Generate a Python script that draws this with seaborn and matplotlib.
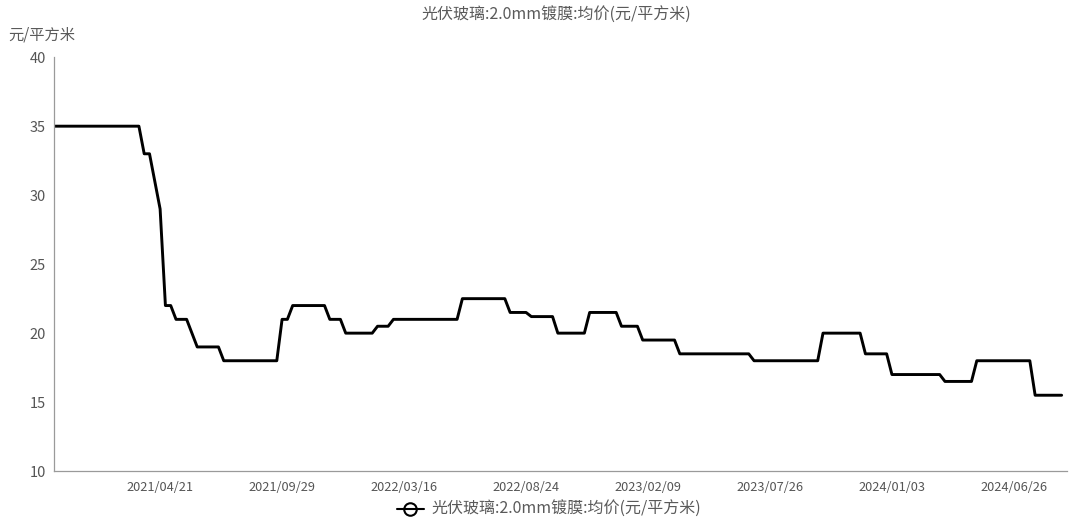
import numpy as np
import pandas as pd
import matplotlib
matplotlib.use("Agg")
import matplotlib.pyplot as plt
from matplotlib.lines import Line2D
import seaborn as sns

# weekly quotes, holiday weeks missing
first_week = "2020-12-02"
last_week = "2024-08-28"
skipped_weeks = ["2022-02-02", "2023-01-25", "2023-05-03", "2024-02-14", "2024-05-01"]
renamed_weeks = {"2023/02/08": "2023/02/09"}

price = [
    35, 35, 35, 35, 35, 35, 35, 35, 35, 35, 35, 35, 35, 35, 35, 35, 35,
    33, 33, 31, 29, 22, 22, 21, 21, 21, 20, 19, 19, 19, 19, 19,
    18, 18, 18, 18, 18, 18, 18, 18, 18, 18, 18,
    21, 21, 22, 22, 22, 22, 22, 22, 22, 21, 21, 21,
    20, 20, 20, 20, 20, 20, 20.5, 20.5, 20.5,
    21, 21, 21, 21, 21, 21, 21, 21, 21, 21, 21, 21, 21,
    22.5, 22.5, 22.5, 22.5, 22.5, 22.5, 22.5, 22.5, 22.5,
    21.5, 21.5, 21.5, 21.5, 21.2, 21.2, 21.2, 21.2, 21.2,
    20, 20, 20, 20, 20, 20, 21.5, 21.5, 21.5, 21.5, 21.5, 21.5,
    20.5, 20.5, 20.5, 20.5, 19.5, 19.5, 19.5, 19.5, 19.5, 19.5, 19.5,
    18.5, 18.5, 18.5, 18.5, 18.5, 18.5, 18.5, 18.5, 18.5, 18.5, 18.5, 18.5, 18.5, 18.5,
    18, 18, 18, 18, 18, 18, 18, 18, 18, 18, 18, 18, 18,
    20, 20, 20, 20, 20, 20, 20, 20, 18.5, 18.5, 18.5, 18.5, 18.5,
    17, 17, 17, 17, 17, 17, 17, 17, 17, 17, 16.5, 16.5, 16.5, 16.5, 16.5, 16.5,
    18, 18, 18, 18, 18, 18, 18, 18, 18, 18, 18,
    15.5, 15.5, 15.5, 15.5, 15.5, 15.5,
]

tick_labels = ["2021/04/21", "2021/09/29", "2022/03/16", "2022/08/24",
               "2023/02/09", "2023/07/26", "2024/01/03", "2024/06/26"]
y_ticks = [10, 15, 20, 25, 30, 35, 40]

series_name = "光伏玻璃:2.0mm镀膜:均价(元/平方米)"
unit = "元/平方米"

weeks = pd.date_range(first_week, last_week, freq="W-WED")
weeks = weeks[~weeks.isin(pd.to_datetime(skipped_weeks))]
week_labels = [renamed_weeks.get(s, s) for s in weeks.strftime("%Y/%m/%d")]
df = pd.DataFrame({"pos": np.arange(len(week_labels)), "date": week_labels, "price": price})

sns.set_style("white")
plt.rcParams["font.family"] = ["Noto Sans CJK SC", "DejaVu Sans"]

fig = plt.figure(figsize=(10.81, 5.2), dpi=100)
ax = fig.add_axes([0.05, 0.094, 0.937, 0.796])

sns.lineplot(data=df, x="pos", y="price", color="black", linewidth=2.1, ax=ax)

ax.set_xlim(0, len(df))
ax.set_ylim(10, 40)
ax.set_yticks(y_ticks)
tick_pos = [week_labels.index(t) for t in tick_labels]
ax.set_xticks(tick_pos)
ax.set_xticklabels(tick_labels)
ax.set_xlabel("")
ax.set_ylabel("")

for side in ["top", "right"]:
    ax.spines[side].set_visible(False)
for side in ["left", "bottom"]:
    ax.spines[side].set_color("#9a9a9a")
    ax.spines[side].set_linewidth(0.9)
ax.tick_params(axis="both", colors="#9a9a9a", labelcolor="#555555",
               length=3, width=0.8, direction="out")
ax.tick_params(axis="x", labelsize=9.2, pad=4)
ax.tick_params(axis="y", labelsize=10.5, pad=3)

fig.text(0.515, 0.971, series_name, ha="center", va="center",
         fontsize=11.5, color="#5a5a5a")
fig.text(0.008, 0.933, unit, ha="left", va="center", fontsize=11, color="#5a5a5a")

handle = Line2D([], [], color="black", linewidth=1.5, marker="o",
                markersize=9, markerfacecolor="none", markeredgecolor="black",
                markeredgewidth=1.5)
fig.legend([handle], [series_name], loc="center", bbox_to_anchor=(0.508, 0.02),
           frameon=False, fontsize=11.5, handlelength=1.7, handletextpad=0.5,
           labelcolor="#5a5a5a")

fig.savefig("out.png", dpi=100)
